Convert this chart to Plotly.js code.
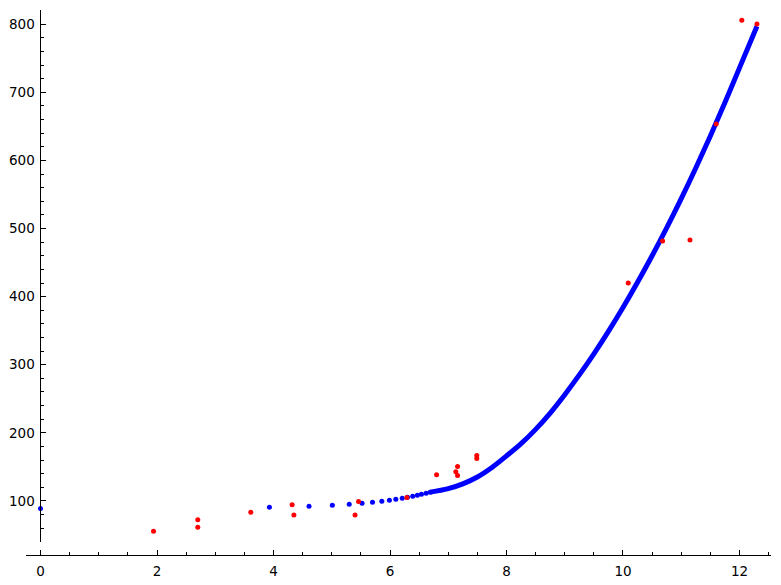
<!DOCTYPE html>
<html>
<head>
<meta charset="utf-8">
<script src="https://cdn.plot.ly/plotly-3.0.1.min.js"></script>
<style>html,body{margin:0;padding:0;background:#fff;}#chart{width:781px;height:585px;}</style>
</head>
<body>
<div id="chart"></div>
<script>
// Observed data (red points)
const obsX = [1.94, 2.70, 2.70, 3.61, 4.32, 4.35, 5.40, 5.46, 6.29, 6.80, 7.13, 7.16, 7.16, 7.49, 7.49, 10.09, 10.68, 11.15, 11.60, 12.04, 12.30];
const obsY = [55.2, 72.1, 61.3, 83.2, 94.1, 79.4, 79.4, 99.0, 105.0, 138.2, 142.6, 150.4, 137.2, 166.6, 162.2, 420, 481.8, 483.3, 653.6, 805.9, 800.4];

// Model values, sparse part (individual blue dots)
const modelDotX = [0, 3.93, 4.61, 5.01, 5.30, 5.52, 5.70, 5.86, 5.99, 6.10, 6.21, 6.30, 6.39, 6.47, 6.54, 6.62, 6.69];
const modelDotY = [88.7, 90.7, 92.2, 93.7, 95.1, 96.6, 98.1, 99.6, 101.0, 102.5, 104.0, 105.4, 106.9, 108.4, 109.8, 111.3, 112.8];

// Model values, dense part (dots merge into a band)
const modelCurveX = [6.69, 7.00, 7.25, 7.50, 7.75, 8.00, 8.25, 8.50, 8.75, 9.00, 9.25, 9.50, 9.75, 10.00, 10.25, 10.50, 10.75, 11.00, 11.25, 11.50, 11.75, 12.00, 12.30];
const modelCurveY = [112.8, 118, 125, 135, 149, 166, 184, 205, 229, 256, 285, 316, 349, 384, 421, 460, 501, 544, 589, 636, 685, 736, 797];

// Tick settings
const xTickVals = [0, 2, 4, 6, 8, 10, 12];
const yTickVals = [100, 200, 300, 400, 500, 600, 700, 800];

const traces = [
  {x: modelCurveX, y: modelCurveY, type: 'scatter', mode: 'lines',
   line: {color: '#0000ff', width: 5, shape: 'spline', smoothing: 1}, hoverinfo: 'skip'},
  {x: modelDotX, y: modelDotY, type: 'scatter', mode: 'markers',
   marker: {color: '#0000ff', size: 5}, cliponaxis: false},
  {x: obsX, y: obsY, type: 'scatter', mode: 'markers',
   marker: {color: '#ff0000', size: 5}, cliponaxis: false}
];

const fontStyle = {family: 'DejaVu Sans', size: 13.5, color: '#000'};

const layout = {
  width: 781, height: 585,
  margin: {l: 26, r: 10, t: 10, b: 30},
  paper_bgcolor: '#fff', plot_bgcolor: '#fff',
  showlegend: false,
  xaxis: {
    range: [-0.249, 12.541], anchor: 'free', position: 0,
    showgrid: false, zeroline: false,
    showline: true, linecolor: '#000', linewidth: 1,
    ticks: 'inside', ticklen: 5, tickcolor: '#000', tickwidth: 1,
    tickvals: xTickVals, ticktext: xTickVals.map(String),
    tickfont: fontStyle, ticklabelstandoff: 4,
    minor: {dtick: 0.5, tick0: 0, ticks: 'inside', ticklen: 3, tickcolor: '#000', tickwidth: 1, showgrid: false}
  },
  yaxis: {
    range: [40, 821], domain: [0.0244, 1], anchor: 'free', position: 0.01946,
    showgrid: false, zeroline: false,
    showline: true, linecolor: '#000', linewidth: 1,
    ticks: 'inside', ticklen: 5, tickcolor: '#000', tickwidth: 1,
    tickvals: yTickVals, ticktext: yTickVals.map(String),
    tickfont: fontStyle, ticklabelstandoff: 3,
    minor: {dtick: 20, tick0: 0, ticks: 'inside', ticklen: 3, tickcolor: '#000', tickwidth: 1, showgrid: false}
  }
};

Plotly.newPlot('chart', traces, layout, {staticPlot: true, displayModeBar: false});
</script>
</body>
</html>
